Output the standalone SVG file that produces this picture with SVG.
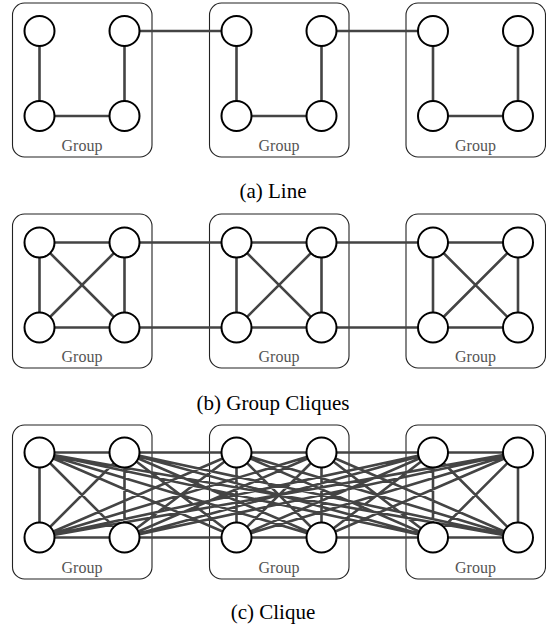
<svg xmlns="http://www.w3.org/2000/svg" width="546" height="626" viewBox="0 0 546 626">
<style>
.box{fill:none;stroke:#222;stroke-width:1.1}
.gl{font-family:"Liberation Serif",serif;font-size:16px;fill:#555;text-anchor:middle}
.cap{font-family:"Liberation Serif",serif;font-size:21px;fill:#000;text-anchor:middle}
.e{fill:none;stroke:#444;stroke-width:2.6}
.n{fill:#fff;stroke:#000;stroke-width:2}
</style>
<rect width="546" height="626" fill="#fff"/>
<g id="groups">
<g id="g1a"><rect class="box" x="12.5" y="3" width="139.5" height="154" rx="12"/><text class="gl" x="82" y="150.5">Group</text></g>
<g id="g2a"><rect class="box" x="209.5" y="3" width="139.5" height="154" rx="12"/><text class="gl" x="279" y="150.5">Group</text></g>
<g id="g3a"><rect class="box" x="406" y="3" width="139.5" height="154" rx="12"/><text class="gl" x="475.5" y="150.5">Group</text></g>
<g id="g1b"><rect class="box" x="12.5" y="214" width="139.5" height="154" rx="12"/><text class="gl" x="82" y="361.5">Group</text></g>
<g id="g2b"><rect class="box" x="209.5" y="214" width="139.5" height="154" rx="12"/><text class="gl" x="279" y="361.5">Group</text></g>
<g id="g3b"><rect class="box" x="406" y="214" width="139.5" height="154" rx="12"/><text class="gl" x="475.5" y="361.5">Group</text></g>
<g id="g1c"><rect class="box" x="12.5" y="425" width="139.5" height="154" rx="12"/><text class="gl" x="82" y="572.5">Group</text></g>
<g id="g2c"><rect class="box" x="209.5" y="425" width="139.5" height="154" rx="12"/><text class="gl" x="279" y="572.5">Group</text></g>
<g id="g3c"><rect class="box" x="406" y="425" width="139.5" height="154" rx="12"/><text class="gl" x="475.5" y="572.5">Group</text></g>
</g>
<g id="connectors">
<path class="e" d="M39.5 31L39.5 116M124.5 31L124.5 116M39.5 116L124.5 116M236.5 31L236.5 116M321.5 31L321.5 116M236.5 116L321.5 116M433 31L433 116M518 31L518 116M433 116L518 116M124.5 31L236.5 31M321.5 31L433 31"/>
<path class="e" d="M39.5 242.5L124.5 242.5M39.5 327.5L124.5 327.5M39.5 242.5L39.5 327.5M124.5 242.5L124.5 327.5M39.5 242.5L124.5 327.5M124.5 242.5L39.5 327.5
M236.5 242.5L321.5 242.5M236.5 327.5L321.5 327.5M236.5 242.5L236.5 327.5M321.5 242.5L321.5 327.5M236.5 242.5L321.5 327.5M321.5 242.5L236.5 327.5
M433 242.5L518 242.5M433 327.5L518 327.5M433 242.5L433 327.5M518 242.5L518 327.5M433 242.5L518 327.5M518 242.5L433 327.5
M124.5 242.5L236.5 242.5M124.5 327.5L236.5 327.5M321.5 242.5L433 242.5M321.5 327.5L433 327.5"/>
<path class="e" d="M39.5 452.5L124.5 452.5M39.5 452.5L236.5 452.5M39.5 452.5L321.5 452.5M39.5 452.5L433 452.5M39.5 452.5L518 452.5M39.5 452.5L39.5 537.5M39.5 452.5L124.5 537.5M39.5 452.5L236.5 537.5M39.5 452.5L321.5 537.5M39.5 452.5L433 537.5M39.5 452.5L518 537.5
M124.5 452.5L236.5 452.5M124.5 452.5L321.5 452.5M124.5 452.5L433 452.5M124.5 452.5L518 452.5M124.5 452.5L39.5 537.5M124.5 452.5L124.5 537.5M124.5 452.5L236.5 537.5M124.5 452.5L321.5 537.5M124.5 452.5L433 537.5M124.5 452.5L518 537.5
M236.5 452.5L321.5 452.5M236.5 452.5L433 452.5M236.5 452.5L518 452.5M236.5 452.5L39.5 537.5M236.5 452.5L124.5 537.5M236.5 452.5L236.5 537.5M236.5 452.5L321.5 537.5M236.5 452.5L433 537.5M236.5 452.5L518 537.5
M321.5 452.5L433 452.5M321.5 452.5L518 452.5M321.5 452.5L39.5 537.5M321.5 452.5L124.5 537.5M321.5 452.5L236.5 537.5M321.5 452.5L321.5 537.5M321.5 452.5L433 537.5M321.5 452.5L518 537.5
M433 452.5L518 452.5M433 452.5L39.5 537.5M433 452.5L124.5 537.5M433 452.5L236.5 537.5M433 452.5L321.5 537.5M433 452.5L433 537.5M433 452.5L518 537.5
M518 452.5L39.5 537.5M518 452.5L124.5 537.5M518 452.5L236.5 537.5M518 452.5L321.5 537.5M518 452.5L433 537.5M518 452.5L518 537.5
M39.5 537.5L124.5 537.5M39.5 537.5L236.5 537.5M39.5 537.5L321.5 537.5M39.5 537.5L433 537.5M39.5 537.5L518 537.5
M124.5 537.5L236.5 537.5M124.5 537.5L321.5 537.5M124.5 537.5L433 537.5M124.5 537.5L518 537.5
M236.5 537.5L321.5 537.5M236.5 537.5L433 537.5M236.5 537.5L518 537.5
M321.5 537.5L433 537.5M321.5 537.5L518 537.5
M433 537.5L518 537.5"/>
</g>
<g id="nodes">
<g id="a1"><circle class="n" cx="39.5" cy="31" r="15"/></g>
<g id="a2"><circle class="n" cx="124.5" cy="31" r="15"/></g>
<g id="a3"><circle class="n" cx="39.5" cy="116" r="15"/></g>
<g id="a4"><circle class="n" cx="124.5" cy="116" r="15"/></g>
<g id="a5"><circle class="n" cx="236.5" cy="31" r="15"/></g>
<g id="a6"><circle class="n" cx="321.5" cy="31" r="15"/></g>
<g id="a7"><circle class="n" cx="236.5" cy="116" r="15"/></g>
<g id="a8"><circle class="n" cx="321.5" cy="116" r="15"/></g>
<g id="a9"><circle class="n" cx="433" cy="31" r="15"/></g>
<g id="a10"><circle class="n" cx="518" cy="31" r="15"/></g>
<g id="a11"><circle class="n" cx="433" cy="116" r="15"/></g>
<g id="a12"><circle class="n" cx="518" cy="116" r="15"/></g>
<g id="b1"><circle class="n" cx="39.5" cy="242.5" r="15"/></g>
<g id="b2"><circle class="n" cx="124.5" cy="242.5" r="15"/></g>
<g id="b3"><circle class="n" cx="39.5" cy="327.5" r="15"/></g>
<g id="b4"><circle class="n" cx="124.5" cy="327.5" r="15"/></g>
<g id="b5"><circle class="n" cx="236.5" cy="242.5" r="15"/></g>
<g id="b6"><circle class="n" cx="321.5" cy="242.5" r="15"/></g>
<g id="b7"><circle class="n" cx="236.5" cy="327.5" r="15"/></g>
<g id="b8"><circle class="n" cx="321.5" cy="327.5" r="15"/></g>
<g id="b9"><circle class="n" cx="433" cy="242.5" r="15"/></g>
<g id="b10"><circle class="n" cx="518" cy="242.5" r="15"/></g>
<g id="b11"><circle class="n" cx="433" cy="327.5" r="15"/></g>
<g id="b12"><circle class="n" cx="518" cy="327.5" r="15"/></g>
<g id="c1"><circle class="n" cx="39.5" cy="452.5" r="15"/></g>
<g id="c2"><circle class="n" cx="124.5" cy="452.5" r="15"/></g>
<g id="c3"><circle class="n" cx="39.5" cy="537.5" r="15"/></g>
<g id="c4"><circle class="n" cx="124.5" cy="537.5" r="15"/></g>
<g id="c5"><circle class="n" cx="236.5" cy="452.5" r="15"/></g>
<g id="c6"><circle class="n" cx="321.5" cy="452.5" r="15"/></g>
<g id="c7"><circle class="n" cx="236.5" cy="537.5" r="15"/></g>
<g id="c8"><circle class="n" cx="321.5" cy="537.5" r="15"/></g>
<g id="c9"><circle class="n" cx="433" cy="452.5" r="15"/></g>
<g id="c10"><circle class="n" cx="518" cy="452.5" r="15"/></g>
<g id="c11"><circle class="n" cx="433" cy="537.5" r="15"/></g>
<g id="c12"><circle class="n" cx="518" cy="537.5" r="15"/></g>
</g>
<g id="captions">
<text class="cap" x="273" y="198">(a) Line</text>
<text class="cap" x="273" y="410">(b) Group Cliques</text>
<text class="cap" x="273" y="619">(c) Clique</text>
</g>
</svg>
